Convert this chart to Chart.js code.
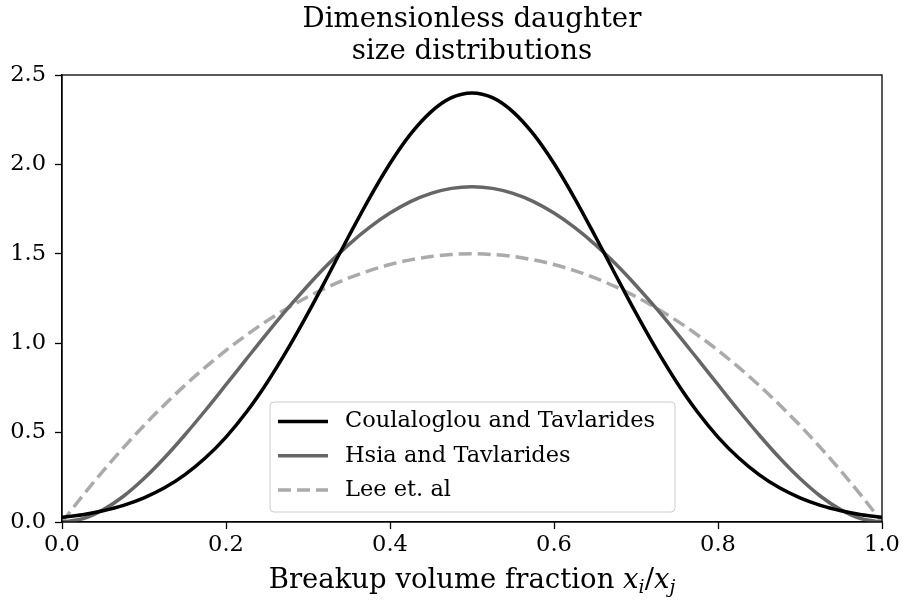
<!DOCTYPE html>
<html>
<head>
<meta charset="utf-8">
<script src="https://cdn.jsdelivr.net/npm/chart.js@4.4.1/dist/chart.umd.min.js"></script>
<style>
  html, body { margin: 0; padding: 0; background: #fff; }
  #wrap { width: 903px; height: 600px; }
</style>
</head>
<body>
<div id="wrap"><canvas id="myChart" width="903" height="600"></canvas></div>
<script>
// breakup volume fraction, 0 .. 1 in steps of 0.025
const fractions = [0, 0.025, 0.05, 0.075, 0.1, 0.125, 0.15, 0.175, 0.2, 0.225, 0.25,
  0.275, 0.3, 0.325, 0.35, 0.375, 0.4, 0.425, 0.45, 0.475, 0.5,
  0.525, 0.55, 0.575, 0.6, 0.625, 0.65, 0.675, 0.7, 0.725, 0.75,
  0.775, 0.8, 0.825, 0.85, 0.875, 0.9, 0.925, 0.95, 0.975, 1];

const coulaloglou = [0.027, 0.041, 0.063, 0.093, 0.135, 0.191, 0.265, 0.359, 0.475, 0.615, 0.779,
  0.965, 1.168, 1.383, 1.601, 1.812, 2.005, 2.169, 2.294, 2.373, 2.4,
  2.373, 2.294, 2.169, 2.005, 1.812, 1.601, 1.383, 1.168, 0.965, 0.779,
  0.615, 0.475, 0.359, 0.265, 0.191, 0.135, 0.093, 0.063, 0.041, 0.027];

const hsia = [0, 0.018, 0.068, 0.144, 0.243, 0.359, 0.488, 0.625, 0.768, 0.912, 1.055,
  1.193, 1.323, 1.444, 1.553, 1.648, 1.728, 1.792, 1.838, 1.866, 1.875,
  1.866, 1.838, 1.792, 1.728, 1.648, 1.553, 1.444, 1.323, 1.193, 1.055,
  0.912, 0.768, 0.625, 0.488, 0.359, 0.243, 0.144, 0.068, 0.018, 0];

const lee = [0, 0.146, 0.285, 0.416, 0.54, 0.656, 0.765, 0.866, 0.96, 1.046, 1.125,
  1.196, 1.26, 1.316, 1.365, 1.406, 1.44, 1.466, 1.485, 1.496, 1.5,
  1.496, 1.485, 1.466, 1.44, 1.406, 1.365, 1.316, 1.26, 1.196, 1.125,
  1.046, 0.96, 0.866, 0.765, 0.656, 0.54, 0.416, 0.285, 0.146, 0];

const xTicks = [0, 0.2, 0.4, 0.6, 0.8, 1.0];
const yTicks = [0, 0.5, 1.0, 1.5, 2.0, 2.5];
const titleLines = ['Dimensionless daughter', 'size distributions'];

const serif = "'DejaVu Serif', serif";

function points(ys) {
  return fractions.map((x, i) => ({ x: x, y: ys[i] }));
}

// frame, title, x axis label (with math part) and a matplotlib style legend
const framePlugin = {
  id: 'frame',
  afterDraw(chart) {
    const ctx = chart.ctx;
    const a = chart.chartArea;
    const mid = (a.left + a.right) / 2;
    ctx.save();
    ctx.strokeStyle = '#000';
    ctx.lineWidth = 1.3;
    ctx.strokeRect(a.left, a.top, a.right - a.left, a.bottom - a.top);

    // title, centred over the plot area
    ctx.fillStyle = '#000';
    ctx.textAlign = 'center';
    ctx.textBaseline = 'middle';
    ctx.font = '27.6px ' + serif;
    titleLines.forEach((t, i) => ctx.fillText(t, mid, 20 + i * 32));

    // x axis label: plain part + italic x_i/x_j
    const base = 588;
    const parts = [
      { t: 'Breakup volume fraction ', f: '27.5px ' + serif, dy: 0 },
      { t: 'x', f: 'italic 27.5px ' + serif, dy: 0 },
      { t: 'i', f: 'italic 19px ' + serif, dy: 5 },
      { t: '/', f: '27.5px ' + serif, dy: 0 },
      { t: 'x', f: 'italic 27.5px ' + serif, dy: 0 },
      { t: 'j', f: 'italic 19px ' + serif, dy: 5 }
    ];
    let total = 0;
    parts.forEach(p => { ctx.font = p.f; p.w = ctx.measureText(p.t).width; total += p.w; });
    let cx = mid - total / 2;
    ctx.textBaseline = 'alphabetic';
    ctx.textAlign = 'left';
    parts.forEach(p => { ctx.font = p.f; ctx.fillText(p.t, cx, base + p.dy); cx += p.w; });

    // legend box
    const bx = 270, by = 402, bw = 405, bh = 110, r = 4;
    ctx.beginPath();
    ctx.moveTo(bx + r, by);
    ctx.arcTo(bx + bw, by, bx + bw, by + bh, r);
    ctx.arcTo(bx + bw, by + bh, bx, by + bh, r);
    ctx.arcTo(bx, by + bh, bx, by, r);
    ctx.arcTo(bx, by, bx + bw, by, r);
    ctx.closePath();
    ctx.fillStyle = 'rgba(255,255,255,0.8)';
    ctx.fill();
    ctx.strokeStyle = '#cccccc';
    ctx.lineWidth = 1;
    ctx.stroke();

    ctx.font = "22.5px " + serif;
    ctx.textBaseline = 'middle';
    chart.data.datasets.forEach((ds, i) => {
      const y = 421.5 + i * 34.3;
      ctx.beginPath();
      ctx.setLineDash(ds.borderDash || []);
      ctx.strokeStyle = ds.borderColor;
      ctx.lineWidth = ds.borderWidth;
      ctx.moveTo(278, y);
      ctx.lineTo(328, y);
      ctx.stroke();
      ctx.setLineDash([]);
      ctx.fillStyle = '#000';
      ctx.fillText(ds.label, 345, y);
    });
    ctx.restore();
  }
};

let myChart = new Chart(document.getElementById('myChart'), {
  type: 'line',
  data: {
    datasets: [
      {
        label: 'Coulaloglou and Tavlarides',
        data: points(coulaloglou),
        borderColor: '#000000',
        borderWidth: 3.5,
        pointRadius: 0,
        cubicInterpolationMode: 'monotone',
        fill: false
      },
      {
        label: 'Hsia and Tavlarides',
        data: points(hsia),
        borderColor: '#666666',
        borderWidth: 3.5,
        pointRadius: 0,
        cubicInterpolationMode: 'monotone',
        fill: false
      },
      {
        label: 'Lee et. al',
        data: points(lee),
        borderColor: '#aaaaaa',
        borderWidth: 3.5,
        borderDash: [13, 6],
        pointRadius: 0,
        cubicInterpolationMode: 'monotone',
        fill: false
      }
    ]
  },
  options: {
    responsive: false,
    animation: false,
    layout: { padding: { left: 0, right: 21, top: 75, bottom: 0 } },
    plugins: {
      legend: { display: false },
      tooltip: { enabled: false },
      title: { display: false }
    },
    scales: {
      x: {
        type: 'linear',
        min: 0,
        max: 1,
        afterBuildTicks(axis) { axis.ticks = xTicks.map(v => ({ value: v })); },
        afterFit(axis) { axis.height = 78; },
        ticks: {
          color: '#000',
          font: { family: serif, size: 22.5 },
          padding: 3,
          maxRotation: 0,
          callback: v => v.toFixed(1)
        },
        grid: { drawOnChartArea: false, drawTicks: true, tickLength: 7, color: '#000', tickWidth: 1.3 },
        border: { display: true, color: '#000', width: 1.3 }
      },
      y: {
        min: 0,
        max: 2.5,
        afterBuildTicks(axis) { axis.ticks = yTicks.map(v => ({ value: v })); },
        afterFit(axis) { axis.width = 62; },
        ticks: {
          color: '#000',
          font: { family: serif, size: 22.5 },
          padding: 9,
          callback: v => v.toFixed(1)
        },
        grid: { drawOnChartArea: false, drawTicks: true, tickLength: 7, color: '#000', tickWidth: 1.3 },
        border: { display: true, color: '#000', width: 1.3 }
      }
    }
  },
  plugins: [framePlugin]
});
</script>
</body>
</html>
